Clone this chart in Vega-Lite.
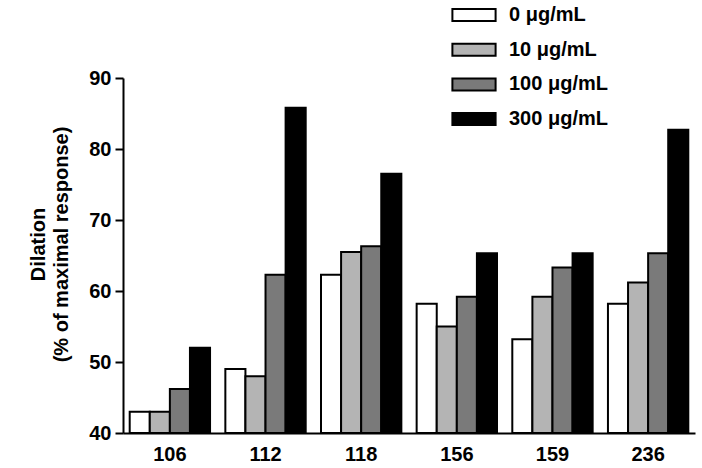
{
  "$schema": "https://vega.github.io/schema/vega-lite/v6.json",
  "autosize": "none",
  "width": 572,
  "height": 355,
  "padding": {"left": 123, "top": 78, "right": 7, "bottom": 35},
  "background": "white",
  "data": {
    "values": [
      {"group": "106", "dose": "0 μg/mL", "value": 43},
      {"group": "106", "dose": "10 μg/mL", "value": 43},
      {"group": "106", "dose": "100 μg/mL", "value": 46.2},
      {"group": "106", "dose": "300 μg/mL", "value": 52},
      {"group": "112", "dose": "0 μg/mL", "value": 49},
      {"group": "112", "dose": "10 μg/mL", "value": 48},
      {"group": "112", "dose": "100 μg/mL", "value": 62.3},
      {"group": "112", "dose": "300 μg/mL", "value": 85.8},
      {"group": "118", "dose": "0 μg/mL", "value": 62.3},
      {"group": "118", "dose": "10 μg/mL", "value": 65.5},
      {"group": "118", "dose": "100 μg/mL", "value": 66.3},
      {"group": "118", "dose": "300 μg/mL", "value": 76.5},
      {"group": "156", "dose": "0 μg/mL", "value": 58.2},
      {"group": "156", "dose": "10 μg/mL", "value": 55},
      {"group": "156", "dose": "100 μg/mL", "value": 59.2},
      {"group": "156", "dose": "300 μg/mL", "value": 65.3},
      {"group": "159", "dose": "0 μg/mL", "value": 53.2},
      {"group": "159", "dose": "10 μg/mL", "value": 59.2},
      {"group": "159", "dose": "100 μg/mL", "value": 63.3},
      {"group": "159", "dose": "300 μg/mL", "value": 65.3},
      {"group": "236", "dose": "0 μg/mL", "value": 58.2},
      {"group": "236", "dose": "10 μg/mL", "value": 61.2},
      {"group": "236", "dose": "100 μg/mL", "value": 65.3},
      {"group": "236", "dose": "300 μg/mL", "value": 82.7}
    ]
  },
  "mark": {"type": "bar", "stroke": "black", "strokeWidth": 2, "strokeJoin": "miter"},
  "encoding": {
    "x": {
      "field": "group",
      "type": "nominal",
      "scale": {"paddingInner": 0.16, "paddingOuter": 0.07},
      "axis": {
        "title": null,
        "labelAngle": 0,
        "ticks": false,
        "tickSize": 0,
        "labelPadding": 11,
        "labelFont": "Liberation Sans",
        "labelFontWeight": "bold",
        "labelFontSize": 20,
        "labelColor": "black",
        "domainColor": "black",
        "domainWidth": 2
      }
    },
    "xOffset": {
      "field": "dose",
      "type": "nominal",
      "sort": ["0 μg/mL", "10 μg/mL", "100 μg/mL", "300 μg/mL"],
      "scale": {"paddingInner": 0, "paddingOuter": 0}
    },
    "y": {
      "field": "value",
      "type": "quantitative",
      "scale": {"domain": [40, 90], "nice": false, "zero": false},
      "axis": {
        "values": [40, 50, 60, 70, 80, 90],
        "grid": false,
        "title": ["Dilation", "(% of maximal response)"],
        "titleFont": "Liberation Sans",
        "titleFontWeight": "bold",
        "titleFontSize": 20,
        "titleColor": "black",
        "titleLineHeight": 23,
        "titleAngle": -90,
        "titleAlign": "center",
        "titleBaseline": "middle",
        "titleX": -85,
        "titleY": 166,
        "labelFont": "Liberation Sans",
        "labelFontWeight": "bold",
        "labelFontSize": 20,
        "labelColor": "black",
        "labelPadding": 4,
        "tickSize": 8,
        "tickWidth": 2,
        "tickColor": "black",
        "domainColor": "black",
        "domainWidth": 2
      }
    },
    "y2": {"datum": 40},
    "fill": {
      "field": "dose",
      "type": "nominal",
      "sort": ["0 μg/mL", "10 μg/mL", "100 μg/mL", "300 μg/mL"],
      "scale": {
        "domain": ["0 μg/mL", "10 μg/mL", "100 μg/mL", "300 μg/mL"],
        "range": ["#ffffff", "#b4b4b4", "#7a7a7a", "#000000"]
      },
      "legend": {
        "title": null,
        "orient": "none",
        "legendX": 341,
        "legendY": -73,
        "padding": 0,
        "symbolType": "M-3.6,-1H3.6V1H-3.6Z",
        "symbolSize": 144,
        "symbolStrokeColor": "black",
        "symbolStrokeWidth": 2,
        "symbolOpacity": 1,
        "labelOffset": 25,
        "rowPadding": 14.7,
        "labelFont": "Liberation Sans",
        "labelFontWeight": "bold",
        "labelFontSize": 20,
        "labelColor": "black",
        "labelLimit": 300
      }
    }
  },
  "config": {
    "view": {"stroke": null}
  }
}
